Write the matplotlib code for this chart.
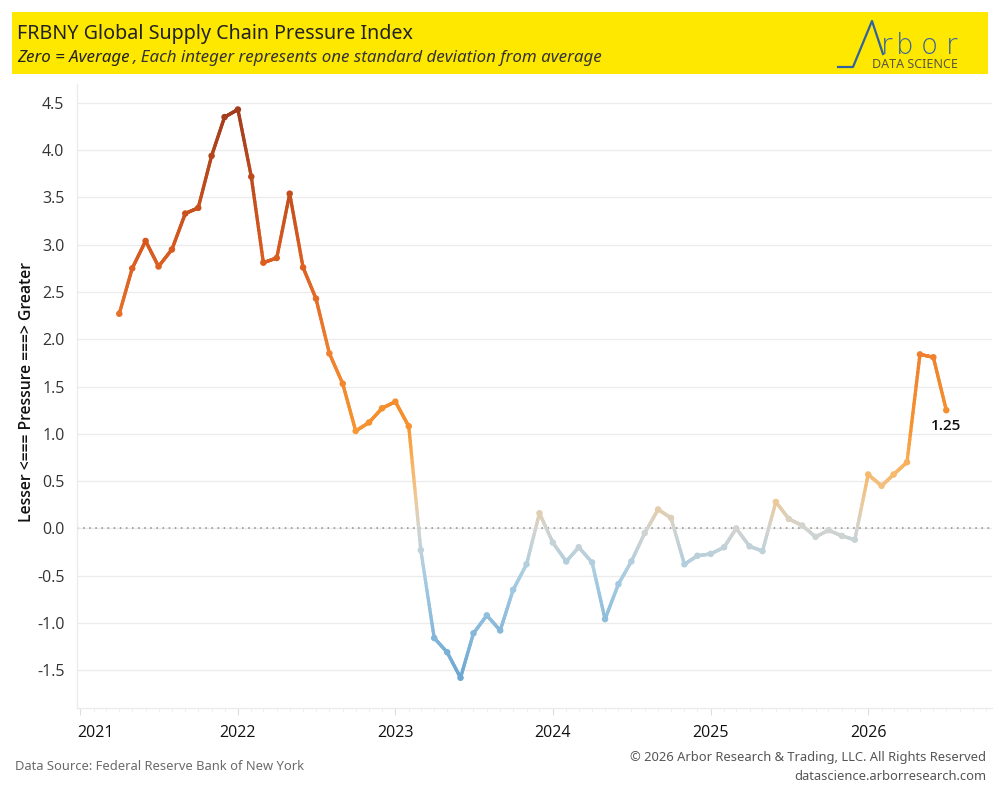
import numpy as np
import matplotlib
matplotlib.use("Agg")
import matplotlib.pyplot as plt
import matplotlib.dates as mdates
import matplotlib.transforms as mtrans
from matplotlib.collections import LineCollection
from matplotlib.colors import LinearSegmentedColormap, Normalize
from matplotlib.patches import Rectangle
from matplotlib.lines import Line2D

# ---------------- data ----------------
start_month = "2021-04"
end_month = "2026-07"
gscpi = [
    2.27, 2.75, 3.04, 2.77, 2.95, 3.33, 3.39, 3.94, 4.35,           # Apr-Dec 2021
    4.43, 3.72, 2.81, 2.86, 3.54, 2.76, 2.43, 1.85, 1.53, 1.03, 1.12, 1.27,  # 2022
    1.34, 1.08, -0.23, -1.16, -1.31, -1.58, -1.11, -0.92, -1.08, -0.65, -0.38, 0.16,  # 2023
    -0.15, -0.35, -0.20, -0.36, -0.96, -0.59, -0.35, -0.05, 0.20, 0.11, -0.38, -0.29,  # 2024
    -0.27, -0.20, 0.00, -0.19, -0.24, 0.28, 0.10, 0.03, -0.09, -0.02, -0.08, -0.12,   # 2025
    0.57, 0.45, 0.57, 0.70, 1.84, 1.81, 1.25,                                      # 2026
]
year_ticks = ["2021", "2022", "2023", "2024", "2025", "2026"]
y_ticks = [-1.5, -1.0, -0.5, 0.0, 0.5, 1.0, 1.5, 2.0, 2.5, 3.0, 3.5, 4.0, 4.5]

dates = np.arange(np.datetime64(start_month), np.datetime64(end_month) + 1).astype("datetime64[D]")
x = mdates.date2num(dates)
y = np.array(gscpi, dtype=float)

# ---------------- colours ----------------
stops = [(-4.43, "#1f6aa5"), (-1.6, "#6ba7d3"), (-0.5, "#a8cde3"), (0.0, "#d2d4d0"),
         (0.3, "#edc999"), (0.65, "#f9b462"), (1.1, "#f6932d"), (1.9, "#ee7f2f"),
         (3.0, "#d7591f"), (4.43, "#a23c1c")]
vmin, vmax = stops[0][0], stops[-1][0]
cmap = LinearSegmentedColormap.from_list(
    "ob", [((v - vmin) / (vmax - vmin), c) for v, c in stops])
norm = Normalize(vmin, vmax)

# ---------------- figure ----------------
fig = plt.figure(figsize=(10, 8), dpi=100)
fig.patch.set_facecolor("white")

def fx(px):
    return px / 1000.0

def fy(py):
    return 1 - py / 800.0

ax = fig.add_axes([fx(77), fy(708), fx(992) - fx(77), fy(84) - fy(708)])
ax.set_facecolor("white")

# gradient line
segs, cols = [], []
nsub = 24
for i in range(len(x) - 1):
    t = np.linspace(0, 1, nsub + 1)
    xs = x[i] + (x[i + 1] - x[i]) * t
    ys = y[i] + (y[i + 1] - y[i]) * t
    for k in range(nsub):
        segs.append([(xs[k], ys[k]), (xs[k + 1], ys[k + 1])])
        cols.append(cmap(norm((ys[k] + ys[k + 1]) / 2)))
lc = LineCollection(segs, colors=cols, linewidths=2.4, capstyle="round", zorder=3)
ax.add_collection(lc)
ax.scatter(x, y, s=22, c=[cmap(norm(v)) for v in y], zorder=4, linewidths=0)

# zero line
ax.axhline(0, color="#8a8a8a", lw=1.1, ls=(0, (1, 3)), zorder=2)

# last value label
ax.annotate(f"{y[-1]:.2f}", (x[-1], y[-1]), xytext=(0, -6), textcoords="offset points",
            ha="center", va="top", fontsize=11, fontweight="semibold",
            color="#111111", family="Open Sans")

# axes
ax.set_ylim(-1.9, 4.7)
ax.set_xlim(mdates.date2num(np.datetime64("2020-12-24")),
            mdates.date2num(np.datetime64("2026-10-15")))
ax.set_yticks(y_ticks)
ax.set_yticklabels([f"{v:.1f}" for v in y_ticks])
ax.yaxis.grid(True, color="#ececec", lw=1)
ax.set_axisbelow(True)
ax.tick_params(axis="y", length=0, pad=9, labelsize=11.5, labelcolor="#333333")

ax.set_xticks([mdates.date2num(np.datetime64(yr + "-01-01")) for yr in year_ticks])
ax.set_xticklabels(year_ticks)
ax.xaxis.set_minor_locator(mdates.MonthLocator())
ax.tick_params(axis="x", which="major", length=5, color="#dddddd", pad=7,
               labelsize=11.5, labelcolor="#111111")
ax.tick_params(axis="x", which="minor", length=3, color="#eeeeee")
xl = ax.get_xticklabels()
for lbl in xl:
    lbl.set_horizontalalignment("center")
xl[0].set_horizontalalignment("left")
xl[0].set_transform(xl[0].get_transform() +
                    mtrans.ScaledTranslation(-3 / 100, 0, fig.dpi_scale_trans))

for s in ["top", "right"]:
    ax.spines[s].set_visible(False)
for s in ["left", "bottom"]:
    ax.spines[s].set_color("#ebebeb")
    ax.spines[s].set_linewidth(1)

for lbl in ax.get_yticklabels() + ax.get_xticklabels():
    lbl.set_family("Open Sans")

# y label
fig.text(fx(27), fy(392), "Lesser <=== Pressure ===> Greater", rotation=90,
         ha="center", va="center", fontsize=11.3, fontweight="semibold",
         family="Open Sans", color="#111111")

# ---------------- header ----------------
fig.add_artist(Rectangle((fx(12), fy(74)), fx(988) - fx(12), fy(12) - fy(74),
                         transform=fig.transFigure, facecolor="#ffe800",
                         edgecolor="none", zorder=0))
fig.text(fx(17), fy(34), "FRBNY Global Supply Chain Pressure Index", ha="left",
         va="center", fontsize=14.2, family="Noto Sans", color="#222222")
t1 = fig.text(fx(17), fy(58), "Zero = Average", ha="left", va="center", fontsize=12.2,
              family="Noto Sans", style="italic", fontweight="bold", color="#222222")
fig.canvas.draw()
bb = t1.get_window_extent(fig.canvas.get_renderer())
fig.text(bb.x1 / fig.bbox.width + fx(3), fy(58),
         ", Each integer represents one standard deviation from average",
         ha="left", va="center", fontsize=12.2, family="Noto Sans", style="italic",
         color="#333333")

# logo
logo_col = "#3263a0"
fig.add_artist(Line2D([fx(838), fx(853), fx(872), fx(883)],
                      [fy(67), fy(67), fy(21), fy(54)],
                      transform=fig.transFigure, color=logo_col, lw=1.6))
for ch, px in zip(["r", "b", "o", "r"], [881, 896, 921, 946]):
    fig.text(fx(px), fy(54), ch, ha="left", va="baseline", fontsize=20,
             family="DejaVu Sans", fontweight="light", color=logo_col)
fig.text(fx(872), fy(64), "DATA SCIENCE", ha="left", va="center", fontsize=9,
         family="Noto Sans", color="#555544")

# ---------------- footer ----------------
fig.text(fx(15), fy(767), "Data Source: Federal Reserve Bank of New York", ha="left",
         va="center", fontsize=9.3, family="Noto Sans", color="#6a6a6a")
fig.text(fx(986), fy(758), "\u00a9 2026 Arbor Research & Trading, LLC. All Rights Reserved",
         ha="right", va="center", fontsize=9.3, family="Noto Sans", color="#555555")
fig.text(fx(986), fy(776), "datascience.arborresearch.com", ha="right", va="center",
         fontsize=9.3, family="Noto Sans", color="#555555")

fig.savefig("out.png", dpi=100, facecolor="white")
